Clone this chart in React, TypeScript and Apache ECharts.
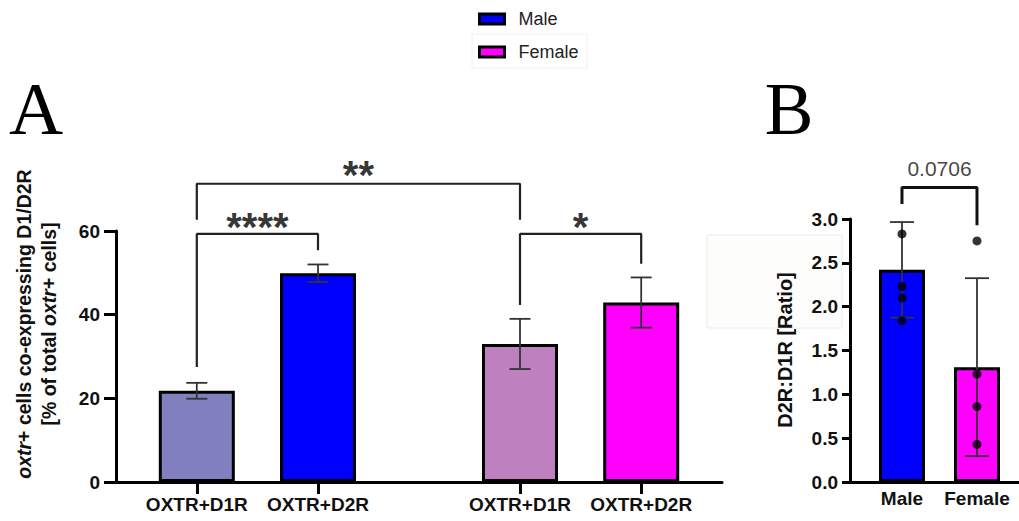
import React, { useEffect, useRef } from "react";
import * as echarts from "echarts";

const FONT = "'Liberation Sans', Arial, Helvetica, sans-serif";

// Panel A
const catsA = ["OXTR+D1R", "OXTR+D2R", "OXTR+D1R", "OXTR+D2R"];
const slotsA = [2, 5, 10, 13];
const sexA = ["Male", "Male", "Female", "Female"];
const meanA = [21.8, 49.9, 33.0, 42.9];
const semA = [1.9, 2.1, 6.0, 6.0];
const colorsA = ["#8080C0", "#0000FF", "#BF80BF", "#FF00FF"];
const ticksA = [0, 20, 40, 60];

// significance brackets, A (indices into catsA)
const bracketFromA = [0, 0, 2];
const bracketToA = [1, 2, 3];
const bracketTopA = [59.3, 71.3, 59.3];
const bracketLeftEndA = [27.5, 62.7, 42.3];
const bracketRightEndA = [55.4, 62.7, 52.2];
const bracketLabelA = ["****", "**", "*"];
const bracketLabelYA = [63.2, 75.6, 63.2];

// Panel B
const catsB = ["Male", "Female"];
const xB = [0, 1];
const meanB = [2.42, 1.31];
const sdB = [0.545, 1.015];
const colorsB = ["#0000FF", "#FF00FF"];
const dotsMale = [2.83, 2.23, 2.1, 1.84];
const dotsFemale = [2.75, 1.23, 0.86, 0.43];
const bracketB = { top: 3.36, leftEnd: 3.17, rightEnd: 2.93, label: "0.0706", labelY: 3.58 };

function errorRender(halfCap: number) {
  return (params: any, api: any) => {
    const x = api.value(0);
    const lo = api.value(2);
    const hi = api.value(3);
    const pLo = api.coord([x, lo]);
    const pHi = api.coord([x, hi]);
    const style = { stroke: "#333", lineWidth: 1.8 };
    return {
      type: "group",
      children: [
        { type: "line", shape: { x1: pLo[0], y1: pLo[1], x2: pHi[0], y2: pHi[1] }, style },
        { type: "line", shape: { x1: pHi[0] - halfCap, y1: pHi[1], x2: pHi[0] + halfCap, y2: pHi[1] }, style },
        { type: "line", shape: { x1: pLo[0] - halfCap, y1: pLo[1], x2: pLo[0] + halfCap, y2: pLo[1] }, style },
      ],
    };
  };
}

export default function App() {
  const ref = useRef<HTMLDivElement>(null);
  useEffect(() => {
    if (!ref.current) return;
    const chart = echarts.init(ref.current, undefined, { renderer: "svg" });

    const axisLine = { show: true, onZero: false, lineStyle: { color: "#000", width: 3 } };
    const tickStyle = { color: "#000", width: 3 };
    const labelBase = { fontSize: 19, fontWeight: "bold", color: "#111", fontFamily: FONT };

    const barSeriesA = (sex: string) => ({
      type: "bar",
      name: sex,
      xAxisIndex: 0,
      yAxisIndex: 0,
      barWidth: 76,
      barGap: "-100%",
      itemStyle: { color: sex === "Male" ? "#0000FF" : "#FF00FF", borderColor: "#000", borderWidth: 3 },
      data: meanA
        .map((v, i) => ({ i, v }))
        .filter((d) => sexA[d.i] === sex)
        .map((d) => ({ value: [slotsA[d.i], d.v], itemStyle: { color: colorsA[d.i] } })),
      z: 2,
    });

    const bracketSeriesA = bracketFromA.map((f, k) => {
      const x1 = slotsA[f];
      const x2 = slotsA[bracketToA[k]];
      return {
        type: "line",
        xAxisIndex: 0,
        yAxisIndex: 0,
        clip: false,
        symbol: "none",
        silent: true,
        lineStyle: { color: "#222", width: 2.2 },
        data: [
          [x1, bracketLeftEndA[k]],
          [x1, bracketTopA[k]],
          [x2, bracketTopA[k]],
          [x2, bracketRightEndA[k]],
        ],
        z: 3,
      };
    });

    const option: any = {
      animation: false,
      backgroundColor: "#fff",
      legend: {
        data: ["Male", "Female"],
        orient: "vertical",
        left: 478,
        top: 9,
        padding: 0,
        itemWidth: 25,
        itemHeight: 10,
        itemGap: 13,
        icon: "rect",
        selectedMode: false,
        itemStyle: { borderColor: "#000", borderWidth: 3 },
        textStyle: { fontSize: 18, color: "#222", fontFamily: FONT, lineHeight: 20, padding: [0, 0, 0, 9] },
      },
      grid: [
        { left: 116, top: 231, width: 606, height: 251 },
        { left: 850, top: 219, width: 169, height: 263 },
      ],
      xAxis: [
        {
          gridIndex: 0,
          type: "value",
          min: 0,
          max: 15,
          axisLine,
          axisTick: { show: true, customValues: slotsA, length: 12, lineStyle: tickStyle },
          axisLabel: {
            ...labelBase,
            customValues: slotsA,
            margin: 13,
            formatter: (v: number) => catsA[slotsA.indexOf(v)] ?? "",
          },
          splitLine: { show: false },
        },
        {
          gridIndex: 1,
          type: "value",
          min: -0.693,
          max: 1.56,
          axisLine,
          axisTick: { show: false },
          axisLabel: {
            ...labelBase,
            customValues: xB,
            margin: 7,
            formatter: (v: number) => catsB[xB.indexOf(v)] ?? "",
          },
          splitLine: { show: false },
        },
      ],
      yAxis: [
        {
          gridIndex: 0,
          type: "value",
          min: 0,
          max: 60,
          interval: 20,
          axisLine,
          axisTick: { show: true, length: 12, lineStyle: tickStyle, customValues: ticksA },
          axisLabel: { ...labelBase, margin: 16, customValues: ticksA },
          splitLine: { show: false },
        },
        {
          gridIndex: 1,
          type: "value",
          min: 0,
          max: 3,
          interval: 0.5,
          axisLine,
          axisTick: { show: true, length: 8, lineStyle: tickStyle },
          axisLabel: { ...labelBase, margin: 12, formatter: (v: number) => v.toFixed(1) },
          splitLine: { show: false },
        },
      ],
      graphic: [
        { type: "rect", shape: { x: 707, y: 235, width: 135, height: 93 }, style: { fill: "#fdfdfc", stroke: "#ececec", lineWidth: 1 }, z: -10 },
        { type: "rect", shape: { x: 472, y: 34, width: 115, height: 34 }, style: { fill: "#fff", stroke: "#f0f0f0", lineWidth: 1 }, z: -10 },
        { type: "text", x: 36, y: 108, style: { text: "A", fontSize: 75, fontFamily: "'Liberation Serif', 'Times New Roman', serif", fill: "#000", align: "center", verticalAlign: "middle" } },
        { type: "text", x: 789, y: 109, style: { text: "B", fontSize: 73, fontFamily: "'Liberation Serif', 'Times New Roman', serif", fill: "#000", align: "center", verticalAlign: "middle" } },
        {
          type: "text",
          x: 36,
          y: 324,
          rotation: Math.PI / 2,
          style: {
            text: "{i|oxtr}{b|+ cells co-expressing D1/D2R}\n{b|[% of total }{i|oxtr}{b|+ cells]}",
            align: "center",
            verticalAlign: "middle",
            fill: "#111",
            rich: {
              b: { fontSize: 19.5, fontWeight: "bold", fontFamily: FONT, fill: "#111", lineHeight: 25 },
              i: { fontSize: 19.5, fontWeight: "bold", fontStyle: "italic", fontFamily: FONT, fill: "#111", lineHeight: 25 },
            },
          },
        },
        {
          type: "text",
          x: 785,
          y: 350,
          rotation: Math.PI / 2,
          style: { text: "D2R:D1R [Ratio]", fontSize: 20, fontWeight: "bold", fontFamily: FONT, fill: "#111", align: "center", verticalAlign: "middle" },
        },
      ],
      series: [
        barSeriesA("Male"),
        barSeriesA("Female"),
        {
          type: "custom",
          xAxisIndex: 0,
          yAxisIndex: 0,
          renderItem: errorRender(10.5),
          data: meanA.map((v, i) => [slotsA[i], v, v - semA[i], v + semA[i]]),
          encode: { x: 0, y: [1, 2, 3] },
          z: 4,
          silent: true,
        },
        ...bracketSeriesA,
        {
          type: "scatter",
          xAxisIndex: 0,
          yAxisIndex: 0,
          clip: false,
          symbolSize: 0,
          silent: true,
          data: bracketLabelA.map((t, k) => ({
            name: t,
            value: [(slotsA[bracketFromA[k]] + slotsA[bracketToA[k]]) / 2, bracketLabelYA[k]],
          })),
          label: {
            show: true,
            position: "inside",
            formatter: (p: any) => p.name,
            fontSize: 40,
            fontWeight: "bold",
            fontFamily: FONT,
            color: "#000",
            textBorderWidth: 0,
            offset: [0, 9],
          },
          z: 5,
        },
        // Panel B
        ...catsB.map((c, i) => ({
          type: "bar",
          name: c,
          xAxisIndex: 1,
          yAxisIndex: 1,
          barWidth: 46,
          barGap: "-100%",
          itemStyle: { color: colorsB[i], borderColor: "#000", borderWidth: 3 },
          data: [[xB[i], meanB[i]]],
          z: 2,
        })),
        {
          type: "custom",
          xAxisIndex: 1,
          yAxisIndex: 1,
          renderItem: errorRender(12),
          data: meanB.map((v, i) => [xB[i], v, v - sdB[i], v + sdB[i]]),
          encode: { x: 0, y: [1, 2, 3] },
          z: 4,
          silent: true,
        },
        {
          type: "scatter",
          xAxisIndex: 1,
          yAxisIndex: 1,
          symbol: "circle",
          symbolSize: 9,
          itemStyle: { color: "#000" },
          silent: true,
          data: [...dotsMale.map((d) => [xB[0], d]), ...dotsFemale.map((d) => [xB[1], d])],
          z: 6,
        },
        {
          type: "line",
          xAxisIndex: 1,
          yAxisIndex: 1,
          clip: false,
          symbol: "none",
          silent: true,
          lineStyle: { color: "#111", width: 3 },
          data: [
            [xB[0], bracketB.leftEnd],
            [xB[0], bracketB.top],
            [xB[1], bracketB.top],
            [xB[1], bracketB.rightEnd],
          ],
          z: 3,
        },
        {
          type: "scatter",
          xAxisIndex: 1,
          yAxisIndex: 1,
          clip: false,
          symbolSize: 0,
          silent: true,
          data: [{ name: bracketB.label, value: [(xB[0] + xB[1]) / 2, bracketB.labelY] }],
          label: {
            show: true,
            position: "inside",
            formatter: (p: any) => p.name,
            fontSize: 21,
            fontFamily: FONT,
            color: "#111",
            textBorderWidth: 0,
          },
          z: 5,
        },
      ],
    };

    chart.setOption(option);
    return () => chart.dispose();
  }, []);

  return (
    <div
      ref={ref}
      style={{ position: "fixed", left: 0, top: 0, width: 1019, height: 521, background: "#fff" }}
    />
  );
}
